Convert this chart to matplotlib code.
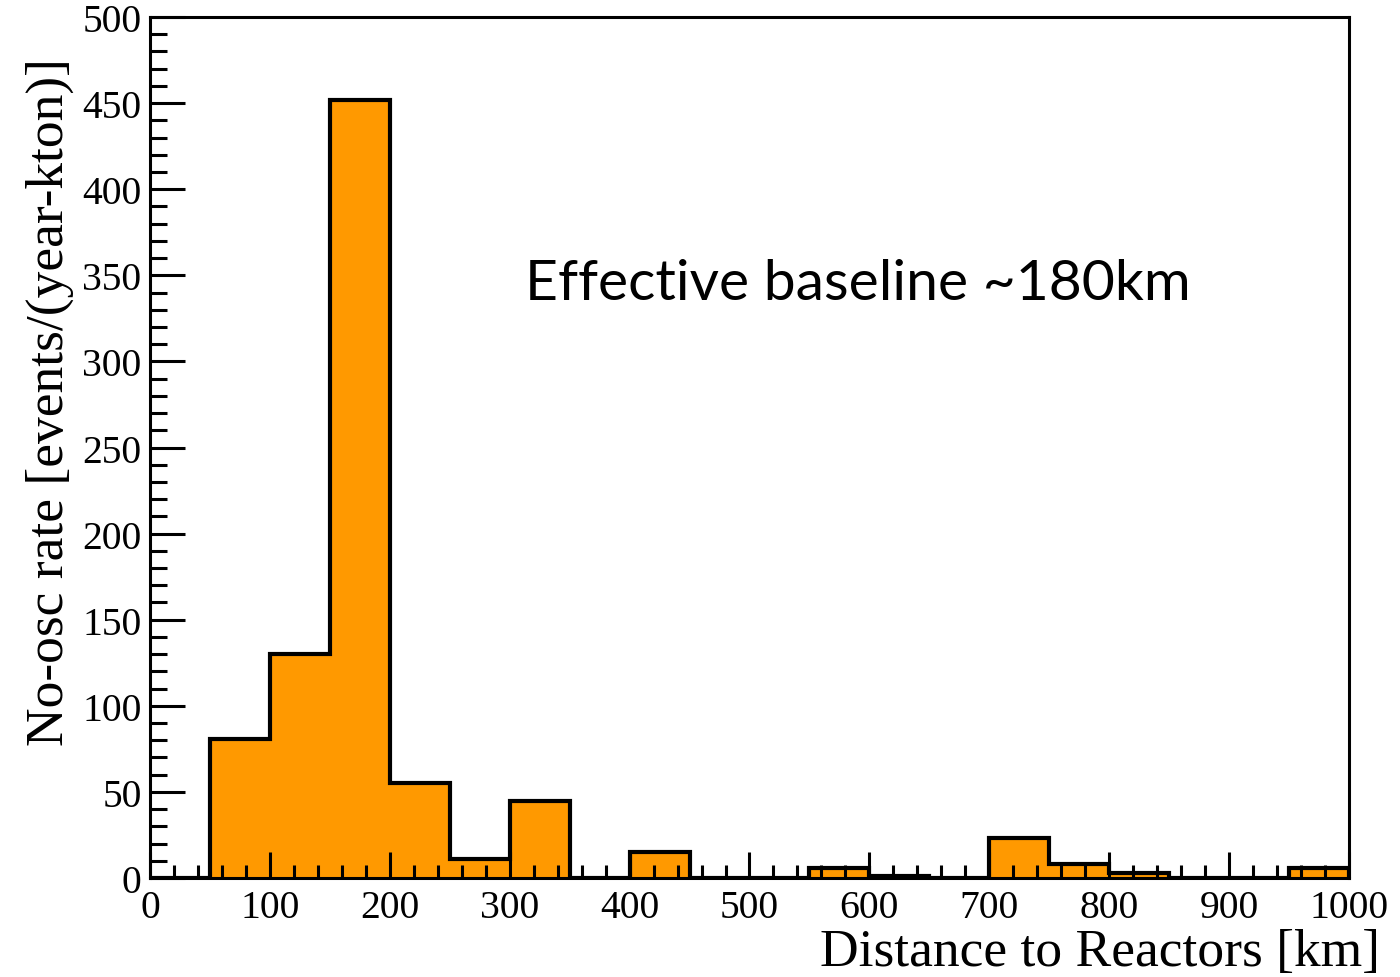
import numpy as np
import matplotlib
matplotlib.use('Agg')
import matplotlib.pyplot as plt
from matplotlib.ticker import MultipleLocator

# bin edges in km and no-osc rate per bin
edges = [0, 50, 100, 150, 200, 250, 300, 350, 400, 450, 500,
         550, 600, 650, 700, 750, 800, 850, 900, 950, 1000]
rates = [0, 81, 130, 452, 55, 11, 45, 0, 15, 0, 0,
         6, 1, 0, 23, 8, 3, 0, 0, 6]

orange = '#ff9900'
serif = ['Liberation Serif', 'DejaVu Serif']

fig = plt.figure(figsize=(14, 9.78), dpi=100)
ax = fig.add_axes([0.1071, 0.1012, 0.8565, 0.8804])

ax.stairs(rates, edges, fill=True, color=orange, baseline=0)
ax.stairs(rates, edges, color='black', linewidth=3, baseline=0)

ax.set_xlim(0, 1000)
ax.set_ylim(0, 500)

ax.xaxis.set_major_locator(MultipleLocator(100))
ax.xaxis.set_minor_locator(MultipleLocator(20))
ax.yaxis.set_major_locator(MultipleLocator(50))
ax.yaxis.set_minor_locator(MultipleLocator(10))
ax.tick_params(which='both', direction='in', top=False, right=False,
               width=2.2, color='black')
ax.tick_params(axis='x', which='major', length=19, pad=8)
ax.tick_params(axis='x', which='minor', length=9.5)
ax.tick_params(axis='y', which='major', length=25, pad=6)
ax.tick_params(axis='y', which='minor', length=12.5)

for spine in ax.spines.values():
    spine.set_linewidth(2.2)

for lab in ax.get_xticklabels() + ax.get_yticklabels():
    lab.set_family(serif)
    lab.set_fontsize(28.5)

ax.set_xlabel('Distance to Reactors [km]', fontsize=38.5, family=serif)
ax.xaxis.set_label_coords(1.026, -0.058)
ax.xaxis.label.set_horizontalalignment('right')
ax.set_ylabel('No-osc rate [events/(year-kton)]', fontsize=38.5, family=serif)
ax.yaxis.set_label_coords(-0.063, 0.554)
ax.yaxis.label.set_horizontalalignment('center')

ax.text(0.313, 0.69, 'Effective baseline ~180km', fontsize=41,
        family=['Lato', 'DejaVu Sans'], transform=ax.transAxes,
        ha='left', va='center')

fig.savefig('out.png', dpi=100)
